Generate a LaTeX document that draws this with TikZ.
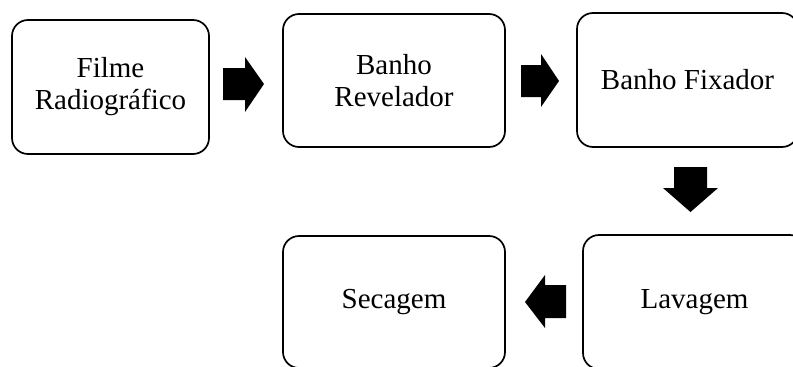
\documentclass[tikz,border=0pt]{standalone}
\usepackage{fontspec}
\setmainfont{Liberation Serif}
\begin{document}
\begin{tikzpicture}[x=1pt,y=-1pt,
  stepbox/.style={draw=black, line width=1.7pt, rounded corners=16pt, align=center,
    inner sep=0pt, font=\fontsize{29}{32}\selectfont},
  blockarrow/.style={fill=black, draw=none}]
\useasboundingbox (0,0) rectangle (793,367);
\node[stepbox, minimum width=197pt, minimum height=134pt] (b1) at (110.5,87) {Filme\\Radiográfico};
\node[stepbox, minimum width=222pt, minimum height=133pt] (b2) at (394,80.5) {Banho\\Revelador};
\node[stepbox, minimum width=221pt, minimum height=134pt] (b3) at (687.5,80) {Banho Fixador};
\node[stepbox, minimum width=223pt, minimum height=134pt] (b4) at (694.5,302) {Lavagem};
\node[stepbox, minimum width=222pt, minimum height=132pt] (b5) at (394,302) {Secagem};
% block arrows
\fill[blockarrow] (223,68) -- (245,68) -- (245,57) -- (264,84) -- (245,112) -- (245,100) -- (223,100) -- cycle;
\fill[blockarrow] (521,65) -- (541,65) -- (541,54) -- (559,81) -- (541,107) -- (541,97) -- (521,97) -- cycle;
\fill[blockarrow] (674,167) -- (707,167) -- (707,188) -- (718,188) -- (690.5,212) -- (663,188) -- (674,188) -- cycle;
\fill[blockarrow] (566,285) -- (545,285) -- (545,275) -- (525,302) -- (545,328) -- (545,318) -- (566,318) -- cycle;
\end{tikzpicture}
\end{document}
